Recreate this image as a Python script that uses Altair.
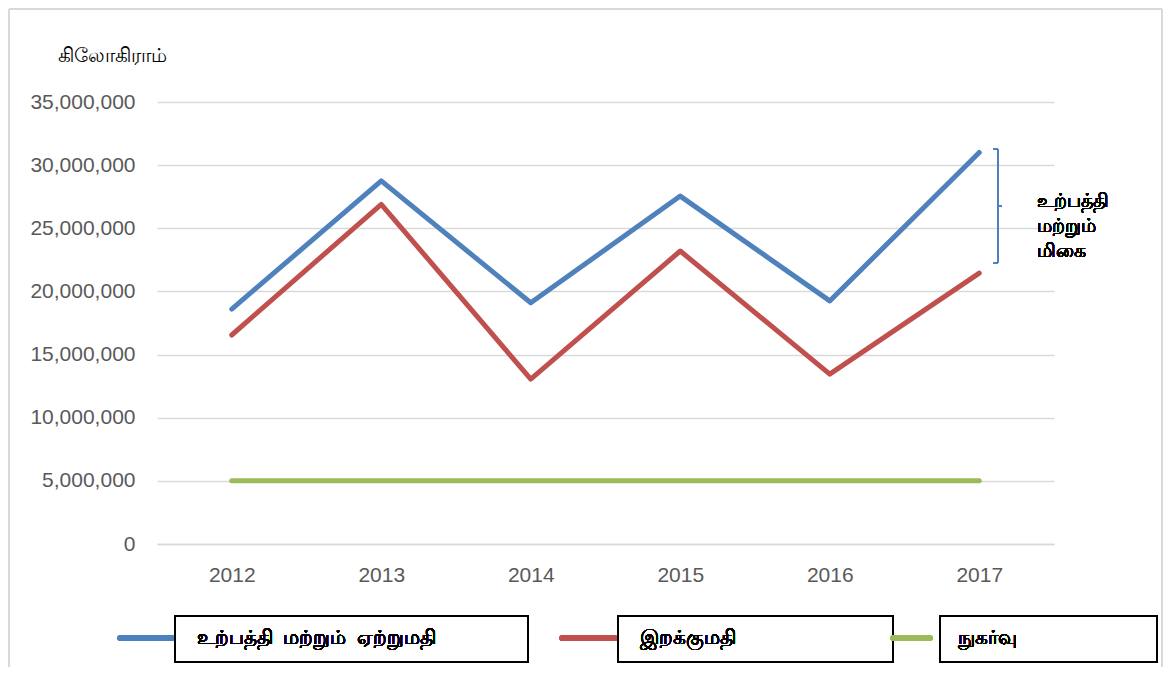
import altair as alt
import pandas as pd

years = ["2012", "2013", "2014", "2015", "2016", "2017"]
production_export = [18600000, 28750000, 19100000, 27550000, 19250000, 31000000]
imports = [16550000, 26900000, 13050000, 23200000, 13450000, 21450000]
consumption = [5000000, 5000000, 5000000, 5000000, 5000000, 5000000]

series_names = ["உற்பத்தி\u00a0\u00a0மற்றும்\u00a0\u00a0ஏற்றுமதி", "இறக்குமதி", "நுகர்வு"]
series_colors = ["#4F81BD", "#C0504D", "#9BBB59"]
y_title = "கிலோகிராம்"
note_lines = ["உற்பத்தி", "மற்றும்", "மிகை"]

rows = []
for name, vals in zip(series_names, [production_export, imports, consumption]):
    for yr, v in zip(years, vals):
        rows.append({"year": yr, "value": v, "series": name})
df = pd.DataFrame(rows)

W, H = 897, 442
FONT = "Noto Sans"
TF = 20

lines = alt.Chart(df).mark_line(strokeWidth=5, strokeCap="round", strokeJoin="round").encode(
    x=alt.X("year:O", sort=years, scale=alt.Scale(type="point", padding=0.5),
            axis=alt.Axis(title=None, labelAngle=0, ticks=False, domainColor="#d9d9d9",
                          domainWidth=1.5, labelFontSize=21, labelColor="#595959",
                          labelFont="Liberation Sans", labelPadding=20)),
    y=alt.Y("value:Q", scale=alt.Scale(domain=[0, 35000000], nice=False),
            axis=alt.Axis(values=[0, 5000000, 10000000, 15000000, 20000000, 25000000, 30000000, 35000000],
                          format=",d", domain=False, ticks=False, gridColor="#d9d9d9", gridWidth=1.5,
                          labelFontSize=21, labelColor="#595959", labelFont="Liberation Sans",
                          labelPadding=22, title=y_title, titleAngle=0, titleX=-100, titleY=-47,
                          titleAlign="left", titleBaseline="middle", titleFontWeight="normal",
                          titleColor="black", titleFontSize=TF, titleFont=FONT)),
    color=alt.Color("series:N", sort=series_names,
                    scale=alt.Scale(domain=series_names, range=series_colors), legend=None),
    detail="series:N",
)

layers = [lines]

# legend: symbol line, box, label
leg_rule = [(-37, 18), (405, 458), (736, 773)]
leg_box = [(18, 371), (461, 736), (783, 1000)]
leg_text = [40, 483, 801]
for i, name in enumerate(series_names):
    layers.append(alt.Chart(df).mark_rule(strokeWidth=5, strokeCap="round", color=series_colors[i]).encode(
        x=alt.value(leg_rule[i][0]), x2=alt.value(leg_rule[i][1]), y=alt.value(536)))
    layers.append(alt.Chart(df).mark_rect(fill="white", stroke="black", strokeWidth=2).encode(
        x=alt.value(leg_box[i][0]), x2=alt.value(leg_box[i][1]), y=alt.value(514), y2=alt.value(560)))
    layers.append(alt.Chart(df).mark_text(text=name, align="left", baseline="middle", fontSize=TF,
                                          font=FONT, color="black").encode(
        x=alt.value(leg_text[i]), y=alt.value(536)))

# bracket annotation
bc = "#4F81BD"
layers.append(alt.Chart(df).mark_rule(strokeWidth=1.5, color=bc).encode(
    x=alt.value(841), y=alt.value(47), y2=alt.value(161)))
layers.append(alt.Chart(df).mark_rule(strokeWidth=1.5, color=bc).encode(
    x=alt.value(836), x2=alt.value(841), y=alt.value(47)))
layers.append(alt.Chart(df).mark_rule(strokeWidth=1.5, color=bc).encode(
    x=alt.value(836), x2=alt.value(841), y=alt.value(161)))
layers.append(alt.Chart(df).mark_rule(strokeWidth=1.5, color=bc).encode(
    x=alt.value(841), x2=alt.value(845), y=alt.value(104)))
for j, line in enumerate(note_lines):
    layers.append(alt.Chart(df).mark_text(text=line, align="left", baseline="middle", fontSize=19,
                                          font=FONT, color="black").encode(
        x=alt.value(880), y=alt.value(99 + 25 * j)))

# outer border lines
layers.append(alt.Chart(df).mark_rule(strokeWidth=2, color="#d9d9d9").encode(
    x=alt.value(-148), y=alt.value(-93), y2=alt.value(H + 123)))
layers.append(alt.Chart(df).mark_rule(strokeWidth=2, color="#d9d9d9").encode(
    x=alt.value(1005), y=alt.value(-93), y2=alt.value(H + 123)))
layers.append(alt.Chart(df).mark_rule(strokeWidth=2, color="#d9d9d9").encode(
    x=alt.value(-148), x2=alt.value(1005), y=alt.value(-93)))

chart = alt.layer(*layers).properties(
    width=W, height=H,
    autosize=alt.AutoSizeParams(type="none"),
    padding={"left": 149, "top": 94, "right": 109, "bottom": 123},
).configure_view(stroke=None)

chart.save("out.html", embed_options={"renderer": "svg", "actions": False})
